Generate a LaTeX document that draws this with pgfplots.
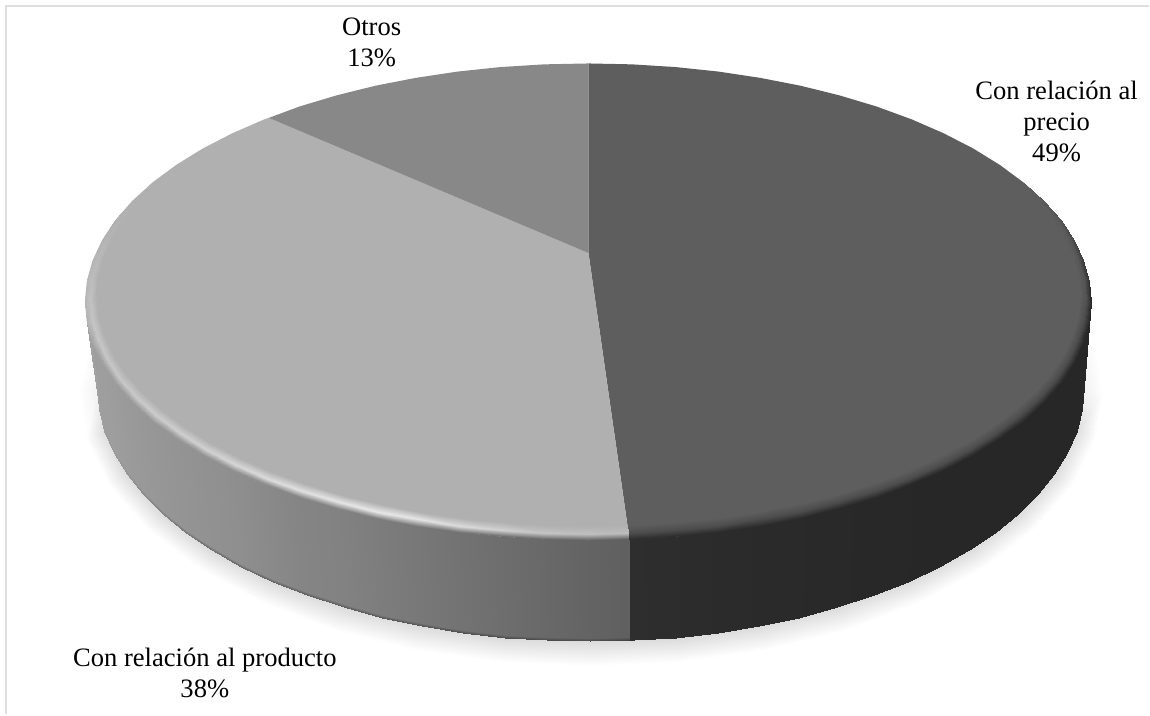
\documentclass[border=0pt]{standalone}
\usepackage{fontspec}
\setmainfont{Liberation Serif}
\usepackage{pgfplots}
\pgfplotsset{compat=1.18}
\definecolor{sliceprecio}{HTML}{5E5E5E}
\definecolor{sliceproducto}{HTML}{B0B0B0}
\definecolor{sliceotros}{HTML}{888888}
\definecolor{frameline}{HTML}{DEDEDE}
\begin{document}
\begin{tikzpicture}
\begin{axis}[
  hide axis, scale only axis, width=1150pt, height=715pt,
  xmin=0, xmax=1150, ymin=0, ymax=715, y dir=reverse,
  colormap/blackwhite, point meta min=0, point meta max=1,
  clip=false,
]
% the page spans the whole plot area
\path (rel axis cs:0,0) rectangle (rel axis cs:1,1);
% soft ground shadow
\addplot[surf, shader=interp, mesh/cols=2, point meta=\thisrow{c}] table {
x y c
1088 340 1
1096 340 1
1085 387 0.95
1104 392 1
1077.5 431.3 0.87
1096.2 439.8 1
1055.2 474.2 0.86
1073.1 486.1 1
1018.8 514.5 0.86
1035.3 529.5 1
969.4 550.9 0.86
984 568.8 1
908.5 582.3 0.86
920.7 602.7 1
838 607.8 0.86
847.5 630.2 1
760 626.6 0.86
766.5 650.4 1
676.8 638.1 0.86
680.1 662.8 1
591 642 0.86
591 667 1
505.2 638.1 0.86
501.9 662.8 1
422 626.6 0.86
415.5 650.4 1
344 607.8 0.86
334.5 630.2 1
273.5 582.3 0.86
261.3 602.7 1
212.6 550.9 0.86
198 568.8 1
163.2 514.5 0.86
146.7 529.5 1
126.8 474.2 0.86
108.9 486.1 1
104.5 431.3 0.87
85.8 439.8 1
97 387 0.95
78 392 1
91 340 1
85 340 1
};
% side wall of the price slice
\addplot[surf, shader=interp, mesh/cols=2, point meta=\thisrow{c}] table {
x y c
1092 302 0.153
1085 387 0.153
1090.1 322.8 0.153
1083.1 409.2 0.153
1084.3 343.4 0.153
1077.5 431.3 0.153
1074.8 363.7 0.153
1068.2 453 0.153
1061.6 383.6 0.153
1055.2 474.2 0.153
1044.8 402.8 0.153
1038.7 494.8 0.153
1024.5 421.3 0.153
1018.8 514.5 0.153
1000.9 438.8 0.153
995.7 533.3 0.153
974.2 455.3 0.153
969.4 550.9 0.153
944.5 470.6 0.153
940.3 567.3 0.153
912.1 484.7 0.155
908.5 582.3 0.155
877.3 497.4 0.157
874.4 595.9 0.157
840.3 508.5 0.16
838 607.8 0.16
801.3 518.2 0.163
799.8 618.1 0.163
760.7 526.1 0.166
760 626.6 0.166
718.8 532.4 0.17
718.9 633.3 0.17
675.9 536.9 0.175
676.8 638.1 0.175
632.4 539.6 0.18
634.1 641 0.18
630 539.7 0.18
630 641 0.18
};
% side wall of the product slice, darker along its lower edge
\addplot[surf, shader=interp, mesh/cols=3, point meta=\thisrow{c}] table {
x y c
630 539.7 0.375
630 638 0.375
630 641 0.27
588.5 540.5 0.39
591 639 0.39
591 642 0.28
544.6 539.6 0.41
547.9 638 0.41
547.9 641 0.29
501.1 536.9 0.43
505.2 635.1 0.43
505.2 638.1 0.30
458.2 532.4 0.45
463.1 630.3 0.45
463.1 633.3 0.31
416.3 526.1 0.47
422 623.6 0.47
422 626.6 0.33
375.7 518.2 0.49
382.2 615.1 0.49
382.2 618.1 0.34
336.7 508.5 0.51
344 604.8 0.51
344 607.8 0.36
299.7 497.4 0.52
307.6 592.9 0.52
307.6 595.9 0.37
264.9 484.7 0.54
273.5 579.3 0.54
273.5 582.3 0.39
232.5 470.6 0.56
241.7 564.3 0.56
241.7 567.3 0.41
202.8 455.3 0.57
212.6 547.9 0.57
212.6 550.9 0.43
176.1 438.8 0.58
186.3 530.3 0.58
186.3 533.3 0.46
152.5 421.3 0.59
163.2 511.5 0.59
163.2 514.5 0.50
132.2 402.8 0.60
143.3 491.8 0.60
143.3 494.8 0.54
115.4 383.6 0.61
126.8 471.2 0.61
126.8 474.2 0.58
102.2 363.7 0.62
113.8 450 0.62
113.8 453 0.60
92.7 343.4 0.62
104.5 428.3 0.62
104.5 431.3 0.62
86.9 322.8 0.63
98.9 406.2 0.63
98.9 409.2 0.63
85 302 0.63
97 384 0.63
97 387 0.63
};
% top faces: Con relación al precio 49%
\addplot[draw=none, fill=sliceprecio] coordinates {
(589,253.3) (589,63.5) (632.4,64.4) (675.9,67.1) (718.8,71.6) (760.7,77.9)
(801.3,85.8) (840.3,95.5) (877.3,106.6) (912.1,119.3) (944.5,133.4)
(974.2,148.7) (1000.9,165.2) (1024.5,182.7) (1044.8,201.2) (1061.6,220.4)
(1074.8,240.3) (1084.3,260.6) (1090.1,281.2) (1092,302) (1090.1,322.8)
(1084.3,343.4) (1074.8,363.7) (1061.6,383.6) (1044.8,402.8) (1024.5,421.3)
(1000.9,438.8) (974.2,455.3) (944.5,470.6) (912.1,484.7) (877.3,497.4)
(840.3,508.5) (801.3,518.2) (760.7,526.1) (718.8,532.4) (675.9,536.9)
(632.4,539.6) (630,539.7) (589,253.3)
};
% Con relación al producto 38%
\addplot[draw=none, fill=sliceproducto] coordinates {
(589,253.3) (630,539.7) (588.5,540.5) (544.6,539.6) (501.1,536.9) (458.2,532.4)
(416.3,526.1) (375.7,518.2) (336.7,508.5) (299.7,497.4) (264.9,484.7)
(232.5,470.6) (202.8,455.3) (176.1,438.8) (152.5,421.3) (132.2,402.8)
(115.4,383.6) (102.2,363.7) (92.7,343.4) (86.9,322.8) (85,302) (86.9,281.2)
(92.7,260.6) (102.2,240.3) (115.4,220.4) (132.2,201.2) (152.5,182.7)
(176.1,165.2) (202.8,148.7) (232.5,133.4) (264.9,119.3) (269,118) (589,253.3)
};
% Otros 13%
\addplot[draw=none, fill=sliceotros] coordinates {
(589,253.3) (269,118) (299.7,106.6) (336.7,95.5) (375.7,85.8) (416.3,77.9)
(458.2,71.6) (501.1,67.1) (544.6,64.4) (589,63.5) (589,253.3)
};
% bevelled rim of the product slice
\addplot[surf, shader=interp, mesh/cols=3, point meta=\thisrow{c}] table {
x y c
628.8 525.2 0.69
629.4 533.2 0.74
630 539.7 0.375
588.5 526 0.69
588.5 534 0.75
588.5 540.5 0.39
545.6 525.1 0.69
545.1 533.1 0.77
544.6 539.6 0.41
503.1 522.5 0.69
502 530.4 0.82
501.1 536.9 0.43
461.2 518.1 0.69
459.5 526 0.86
458.2 532.4 0.45
420.2 512.1 0.69
418.1 519.8 0.90
416.3 526.1 0.47
380.6 504.4 0.69
377.9 512 0.91
375.7 518.2 0.49
342.5 495.1 0.69
339.3 502.5 0.90
336.7 508.5 0.51
306.3 484.2 0.69
302.7 491.5 0.88
299.7 497.4 0.52
272.2 472 0.69
268.2 479 0.86
264.9 484.7 0.54
240.6 458.3 0.69
236.1 465.1 0.84
232.5 470.6 0.56
211.6 443.5 0.69
206.8 450 0.82
202.8 455.3 0.57
185.5 427.5 0.69
180.3 433.8 0.81
176.1 438.8 0.58
162.4 410.5 0.69
157 416.5 0.80
152.5 421.3 0.59
142.6 392.6 0.69
136.9 398.3 0.79
132.2 402.8 0.60
126.2 374 0.69
120.2 379.3 0.78
115.4 383.6 0.61
113.3 354.8 0.69
107.2 359.7 0.78
102.2 363.7 0.62
104 335.1 0.69
97.8 339.7 0.78
92.7 343.4 0.66
98.4 315.1 0.69
92.1 319.4 0.77
86.9 322.8 0.70
96.5 295 0.69
90.2 298.9 0.76
85 302 0.72
98.4 274.9 0.69
92.1 278.4 0.74
86.9 281.2 0.72
104 254.9 0.69
97.8 258.1 0.73
92.7 260.6 0.71
113.3 235.2 0.69
107.2 238.1 0.71
102.2 240.3 0.70
126.2 216 0.69
120.2 218.5 0.70
115.4 220.4 0.69
142.6 197.4 0.69
136.9 199.5 0.69
132.2 201.2 0.69
162.4 179.5 0.69
157 181.3 0.69
152.5 182.7 0.69
185.5 162.5 0.69
180.3 164 0.69
176.1 165.2 0.69
211.6 146.5 0.69
206.8 147.8 0.69
202.8 148.7 0.69
240.6 131.7 0.69
236.1 132.7 0.69
232.5 133.4 0.69
};
% bevelled rim of the price slice
\addplot[surf, shader=interp, mesh/cols=3, point meta=\thisrow{c}] table {
x y c
628.8 525.2 0.37
629.4 533.2 0.30
630 539.7 0.18
631.4 525.1 0.37
631.9 533.1 0.30
632.4 539.6 0.18
673.9 522.5 0.37
675 530.4 0.30
675.9 536.9 0.175
715.8 518.1 0.37
717.5 526 0.30
718.8 532.4 0.17
756.8 512.1 0.37
758.9 519.8 0.30
760.7 526.1 0.166
796.4 504.4 0.37
799.1 512 0.30
801.3 518.2 0.163
834.5 495.1 0.37
837.7 502.5 0.30
840.3 508.5 0.16
870.7 484.2 0.37
874.3 491.5 0.30
877.3 497.4 0.157
904.8 472 0.37
908.8 479 0.30
912.1 484.7 0.155
936.4 458.3 0.37
940.9 465.1 0.30
944.5 470.6 0.153
965.4 443.5 0.37
970.2 450 0.30
974.2 455.3 0.153
991.5 427.5 0.37
996.7 433.8 0.30
1000.9 438.8 0.153
1014.6 410.5 0.37
1020 416.5 0.30
1024.5 421.3 0.153
1034.4 392.6 0.37
1040.1 398.3 0.30
1044.8 402.8 0.153
1050.8 374 0.37
1056.8 379.3 0.30
1061.6 383.6 0.153
1063.7 354.8 0.37
1069.8 359.7 0.30
1074.8 363.7 0.153
1073 335.1 0.37
1079.2 339.7 0.30
1084.3 343.4 0.153
1078.6 315.1 0.37
1084.9 319.4 0.30
1090.1 322.8 0.153
1080.5 295 0.37
1086.8 298.9 0.32
1092 302 0.16
1078.6 274.9 0.37
1084.9 278.4 0.33
1090.1 281.2 0.20
1073 254.9 0.37
1079.2 258.1 0.34
1084.3 260.6 0.24
1063.7 235.2 0.37
1069.8 238.1 0.35
1074.8 240.3 0.28
1050.8 216 0.37
1056.8 218.5 0.36
1061.6 220.4 0.32
1034.4 197.4 0.37
1040.1 199.5 0.37
1044.8 201.2 0.35
1014.6 179.5 0.37
1020 181.3 0.37
1024.5 182.7 0.37
};
% chart frame, visible on two sides
\addplot[frameline, line width=2pt] coordinates {(6,715) (6,6) (1150,6)};
% slice labels
\node[font=\fontsize{26.6}{31}\selectfont, align=center, text=black] at (axis cs:372,42) {Otros\\13\%};
\node[font=\fontsize{26.6}{31}\selectfont, align=center, text=black] at (axis cs:1057.5,121.5) {Con relación al\\precio\\49\%};
\node[font=\fontsize{26.6}{32}\selectfont, align=center, text=black] at (axis cs:205,673.5) {Con relación al producto\\38\%};
\end{axis}
\end{tikzpicture}
\end{document}
